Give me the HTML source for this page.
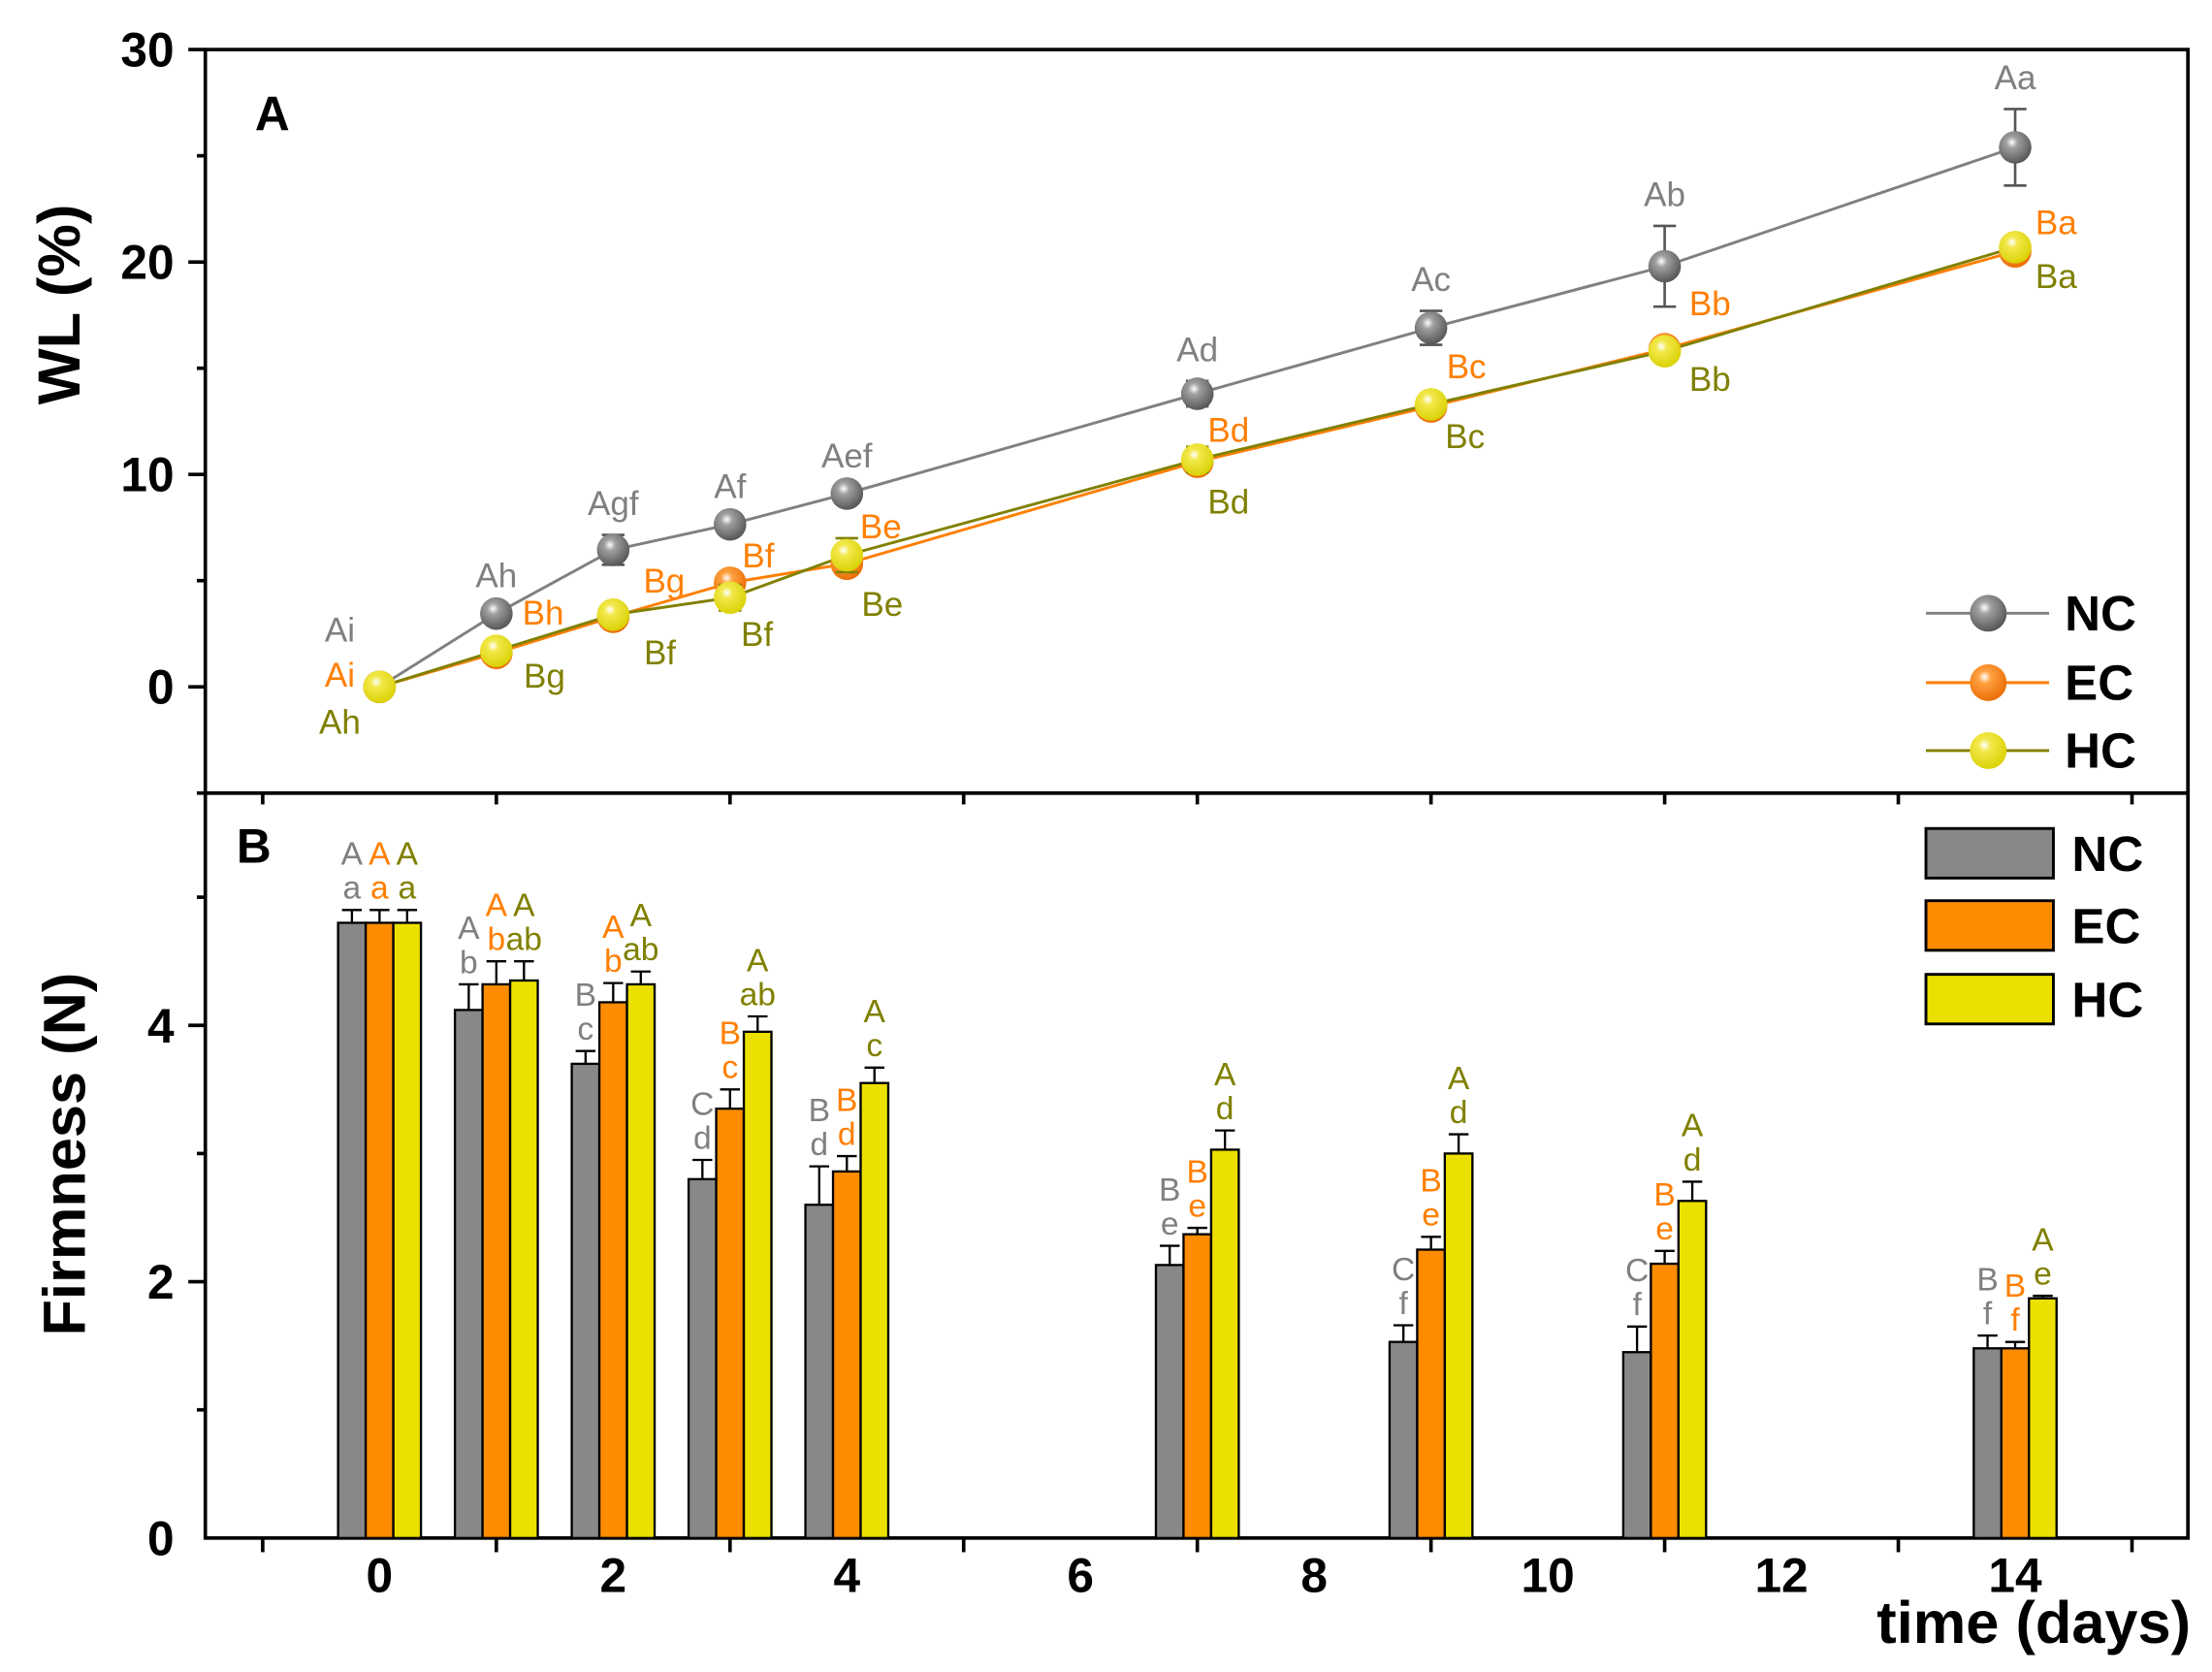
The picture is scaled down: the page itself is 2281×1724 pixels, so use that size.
<!DOCTYPE html>
<html><head><meta charset="utf-8"><style>
html,body{margin:0;padding:0;background:#fff}
svg{display:block}
text{font-family:"Liberation Sans",Arial,sans-serif}
</style></head>
<body>
<svg id="chart" width="2281" height="1724" viewBox="0 0 1562 1180.6" preserveAspectRatio="none" xmlns="http://www.w3.org/2000/svg">
<defs>
<radialGradient id="gNC" cx="0.4" cy="0.35" r="0.7"><stop offset="0" stop-color="#fff"/><stop offset="0.25" stop-color="#a0a0a0"/><stop offset="1" stop-color="#505050"/></radialGradient>
<radialGradient id="gEC" cx="0.4" cy="0.35" r="0.7"><stop offset="0" stop-color="#fff"/><stop offset="0.25" stop-color="#ffa040"/><stop offset="1" stop-color="#e86a00"/></radialGradient>
<radialGradient id="gHC" cx="0.4" cy="0.35" r="0.7"><stop offset="0" stop-color="#fff"/><stop offset="0.25" stop-color="#f2e84a"/><stop offset="1" stop-color="#d8d000"/></radialGradient>
</defs>
</svg>
<script>
// ---- data ----
const days = [0,1,2,3,4,7,9,11,14];
const wlNC = [0,3.45,6.45,7.65,9.1,13.8,16.9,19.8,25.4];
const wlEC = [0,1.6,3.3,4.9,5.8,10.6,13.2,15.9,20.5];
const wlHC = [0,1.7,3.4,4.2,6.2,10.7,13.3,15.8,20.7];
const wlErrNC = [0,0.3,0.7,0.3,0.3,0.6,0.8,1.9,1.8];
const wlErrEC = [0,0.3,0.3,0.3,0.3,0.3,0.3,0.3,0.3];
const wlErrHC = [0,0.3,0.3,0.6,0.8,0.6,0.5,0.3,0.3];
const wlLabNC = ["Ai","Ah","Agf","Af","Aef","Ad","Ac","Ab","Aa"];
const wlLabEC = ["Ai","Bh","Bg","Bf","Be","Bd","Bc","Bb","Ba"];
const wlLabHC = ["Ah","Bg","Bf","Bf","Be","Bd","Bc","Bb","Ba"];
const fNC = [4.8,4.12,3.7,2.8,2.6,2.13,1.53,1.45,1.48];
const fEC = [4.8,4.32,4.18,3.35,2.86,2.37,2.25,2.14,1.48];
const fHC = [4.8,4.35,4.32,3.95,3.55,3.03,3.0,2.63,1.87];
const fErrNC = [0.1,0.2,0.1,0.15,0.3,0.15,0.13,0.2,0.1];
const fErrEC = [0.1,0.18,0.15,0.15,0.12,0.05,0.1,0.1,0.05];
const fErrHC = [0.1,0.15,0.1,0.12,0.12,0.15,0.15,0.15,0.02];
const fUpNC = ["A","A","B","C","B","B","C","C","B"];
const fLoNC = ["a","b","c","d","d","e","f","f","f"];
const fUpEC = ["A","A","A","B","B","B","B","B","B"];
const fLoEC = ["a","b","b","c","d","e","e","e","f"];
const fUpHC = ["A","A","A","A","A","A","A","A","A"];
const fLoHC = ["a","ab","ab","ab","c","d","d","d","e"];
const xTicks = [0,2,4,6,8,10,12,14];
const wlTicks = [0,10,20,30];
const fTicks = [0,2,4];

const svg = document.getElementById('chart');
const NS = 'http://www.w3.org/2000/svg';
function mk(tag, attrs, parent){const e=document.createElementNS(NS,tag);for(const k in attrs)e.setAttribute(k,attrs[k]);(parent||svg).appendChild(e);return e;}
function tx(str,attrs,parent){const e=mk('text',attrs,parent);e.textContent=str;return e;}

const L=145,R=1545,TA=35,MID=560,BOT=1086;
const X = d => 268 + d*82.5;
const YA = v => 485 - v*15;
const YB = v => 1086 - v*90.5;
const COL = {NC:'#808080',EC:'#ff7f00',HC:'#808000'};
const BAR = {NC:'#888888',EC:'#ff8c00',HC:'#ece000'};
// label placement offsets (label center relative to point), index-matched to days
const ecOff = [[0,0],[33,-28],[36,-25],[20,-19],[24,-26],[22,-22],[25,-28],[32,-32],[29,-20]];
const hcOff = [[0,0],[34,18],[33,27],[19,26],[25,35],[22,30],[24,23],[32,20],[29,21]];

// frames
let fa = mk('rect',{x:L,y:TA,width:R-L,height:MID-TA,fill:'none',stroke:'#000','stroke-width':2.5});


let fb = mk('rect',{x:L,y:MID,width:R-L,height:BOT-MID,fill:'none',stroke:'#000','stroke-width':2.5});



for(let d=-1; d<=15; d+=2){
  let t=mk('line',{x1:X(d),x2:X(d),y1:BOT,y2:BOT+10,stroke:'#000','stroke-width':2.5});
  
  
  let t2=mk('line',{x1:X(d),x2:X(d),y1:MID,y2:MID+8,stroke:'#000','stroke-width':2.5});
  
  
}
xTicks.forEach(d=>{
  let t=tx(String(d),{x:X(d),y:BOT+38,'text-anchor':'middle','font-size':34,'font-weight':'bold'});
  
  
});
let xt=tx('time (days)',{x:1547,y:1160,'text-anchor':'end','font-size':42,'font-weight':'bold'});



for(let v=-5; v<=30; v+=5){
  const major = v%10===0;
  let t=mk('line',{x1:L-(major?12:6),x2:L,y1:YA(v),y2:YA(v),stroke:'#000','stroke-width':2.5});
  
  
}
wlTicks.forEach(v=>{
  let t=tx(String(v),{x:L-22,y:YA(v)+12,'text-anchor':'end','font-size':34,'font-weight':'bold'});
  
  
});
let ya=tx('WL (%)',{x:0,y:0,transform:'translate(56,215) rotate(-90)','text-anchor':'middle','font-size':42,'font-weight':'bold'});


for(let v=1; v<=5; v+=1){
  const major = v%2===0;
  let t=mk('line',{x1:L-(major?12:6),x2:L,y1:YB(v),y2:YB(v),stroke:'#000','stroke-width':2.5});
  
  
}
fTicks.forEach(v=>{
  let t=tx(String(v),{x:L-22,y:YB(v)+12,'text-anchor':'end','font-size':34,'font-weight':'bold'});
  
  
});
let yb=tx('Firmness (N)',{x:0,y:0,transform:'translate(60,815) rotate(-90)','text-anchor':'middle','font-size':42,'font-weight':'bold'});



let pa=tx('A',{x:180,y:92,'font-size':34,'font-weight':'bold'});


let pb=tx('B',{x:167,y:609,'font-size':34,'font-weight':'bold'});



const seriesA = [['NC',wlNC,wlErrNC],['EC',wlEC,wlErrEC],['HC',wlHC,wlErrHC]];
seriesA.forEach(([k,vals,errs])=>{
  let pts = days.map((d,i)=>X(d)+','+YA(vals[i])).join(' ');
  let pl=mk('polyline',{points:pts,fill:'none',stroke:COL[k],'stroke-width':2});
  
  
});
seriesA.forEach(([k,vals,errs])=>{
  days.forEach((d,i)=>{
    const cx=X(d), cy=YA(vals[i]);
    if(errs[i]>0){
      let eb=mk('path',{d:`M${cx},${YA(vals[i]+errs[i])}V${YA(vals[i]-errs[i])}M${cx-8},${YA(vals[i]+errs[i])}h16M${cx-8},${YA(vals[i]-errs[i])}h16`,stroke:k==='NC'?'#555':COL[k],'stroke-width':1.8,fill:'none'});
      
      
    }
    let m=mk('circle',{cx:cx,cy:cy,r:11.5,fill:'url(#g'+k+')'});
    
    
  });
});
const fsA=24;
days.forEach((d,i)=>{
  const cx=X(d);
  let a,b,c;
  if(i===0){
    a=tx(wlLabNC[i],{x:cx-28,y:YA(0)-32,'text-anchor':'middle','font-size':fsA,fill:COL.NC});
    b=tx(wlLabEC[i],{x:cx-28,y:YA(0)+0,'text-anchor':'middle','font-size':fsA,fill:COL.EC});
    c=tx(wlLabHC[i],{x:cx-28,y:YA(0)+33,'text-anchor':'middle','font-size':fsA,fill:COL.HC});
  } else {
    a=tx(wlLabNC[i],{x:cx,y:YA(wlNC[i]+wlErrNC[i])-14,'text-anchor':'middle','font-size':fsA,fill:COL.NC});
    b=tx(wlLabEC[i],{x:cx+ecOff[i][0],y:YA(wlEC[i])+ecOff[i][1]+8,'text-anchor':'middle','font-size':fsA,fill:COL.EC});
    c=tx(wlLabHC[i],{x:cx+hcOff[i][0],y:YA(wlHC[i])+hcOff[i][1]+8,'text-anchor':'middle','font-size':fsA,fill:COL.HC});
  }
  
  
  
  
  
  
});

const BW=19.5;
const seriesB=[['NC',fNC,fErrNC,fUpNC,fLoNC,-1],['EC',fEC,fErrEC,fUpEC,fLoEC,0],['HC',fHC,fErrHC,fUpHC,fLoHC,1]];
seriesB.forEach(([k,vals,errs,up,lo,off])=>{
  days.forEach((d,i)=>{
    const cx=X(d)+off*BW;
    let r=mk('rect',{x:cx-BW/2,y:YB(vals[i]),width:BW,height:YB(0)-YB(vals[i]),fill:BAR[k],stroke:'#000','stroke-width':1.6});
    
    
    const t=YB(vals[i]+errs[i]);
    let eb=mk('path',{d:`M${cx},${YB(vals[i])}V${t}M${cx-7},${t}h14`,stroke:'#000','stroke-width':1.6,fill:'none'});
    
    
    let l1=tx(lo[i],{x:cx,y:t-8,'text-anchor':'middle','font-size':23,fill:COL[k]});
    
    
    let l2=tx(up[i],{x:cx,y:t-32,'text-anchor':'middle','font-size':23,fill:COL[k]});
    
    
  });
});

const legA=[['NC',433],['EC',482],['HC',530]];
legA.forEach(([k,y])=>{
  let ln=mk('line',{x1:1360,x2:1447,y1:y,y2:y,stroke:COL[k],'stroke-width':2});
  
  
  let c=mk('circle',{cx:1404,cy:y,r:13,fill:'url(#g'+k+')'});
  
  
  let t=tx(k,{x:1458,y:y+12,'font-size':35,'font-weight':'bold'});
  
  
});
const legB=[['NC',585],['EC',636],['HC',688]];
legB.forEach(([k,y])=>{
  let r=mk('rect',{x:1360,y:y,width:90,height:35,fill:BAR[k],stroke:'#000','stroke-width':2});
  
  
  let t=tx(k,{x:1463,y:y+30,'font-size':35,'font-weight':'bold'});
  
  
});
</script>
</body></html>
